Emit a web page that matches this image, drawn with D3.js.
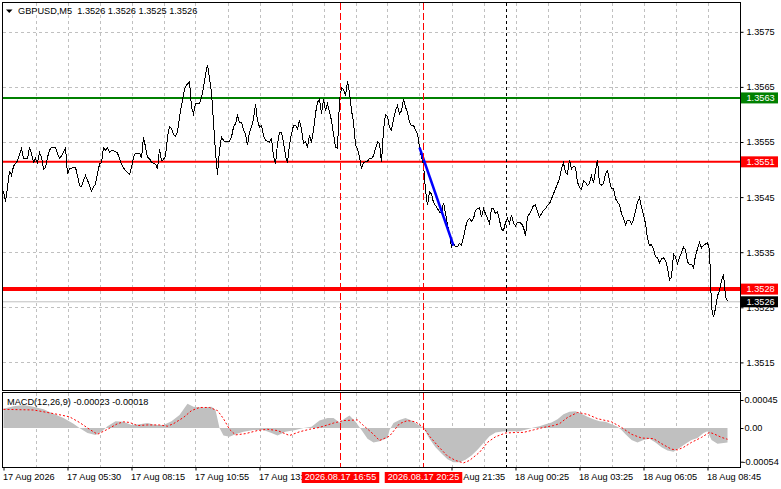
<!DOCTYPE html>
<html>
<head>
<meta charset="utf-8">
<script src="https://cdn.jsdelivr.net/npm/d3@7"></script>
<style>
body{margin:0;background:#fff;}
svg text{font-family:"Liberation Sans",Arial,sans-serif;font-size:9.2px;}
</style>
</head>
<body>
<svg id="chart" width="781" height="489"></svg>
<script>
// ---- data ----
var symbolTitle = "GBPUSD,M5  1.3526 1.3526 1.3525 1.3526";
var macdTitle = "MACD(12,26,9) -0.00023 -0.00018";

var priceBars = [0,1,2,3,4,5,7,9,10,12,13,14,15,16,17,18,19,20,21,22,23,24,26,27,28,29,30,31,32,33,35,36,37,38,39,40,
  41,42,43,44,45,46,47,48,49,50,51,52,53,54,56,57,58,59,60,61,62,63,64,65,66,68,69,70,71,72,73,74,76,77,78,79,80,
  81,82,83,84,85,86,87,88,89,90,91,92,93,94,95,96,97,98,99,100,101,102,103,104,105,106,107,108,109,110,111,113,114,
  115,116,117,118,119,120,121,122,123,124,125,126,127,128,129,130,131,132,133,134,135,136,137,138,139,140,141,142,
  143,144,145,146,147,148,149,150,151,152,153,154,155,156,157,158,159,160,161,162,163,164,165,166,167,168,169,170,
  171,172,173,174,175,176,177,178,179,180,182,183,184,185,186,187,188,189,190,191,192,193,194,195,196,197,198,199,
  200,201,202,203,204,205,206,207,208,209,210,211,212,213,214,215,216,217,218,219,220,221,222,223,224,225,226,227,
  228,229,230,231,232,233,234,235,236,237,238,239,240,241,242,243,244,245,246,247,248,249,250,251,252,253,254,255,
  256,257,258,259,260,261,262,263,264,265,266,267,268,269,270,271,272,273,274,275,276,277,278,279,280,281,282,283,
  284,285,286,287,288,289,290,291,292,293,294,295,296,297,298,299,300,301,302,303,304,305,306,307,308,309,310,311,
  312,313,314,315,316,317,318,319,320,321,322,323,324,325,326,327,328,329,330,331,332,333,334,335,336,337,338,339,
  340,341,342,343,344,345,346,347,348,349,350,351,352,353,354,355,356,357,358,359,360,361,362];

var priceCloses = [1.35461,1.35441,1.35468,1.35498,1.35489,1.35506,1.35516,1.35538,1.35520,1.35520,1.35540,1.35529,
  1.35513,1.35520,1.35512,1.35531,1.35522,1.35501,1.35504,1.35522,1.35535,1.35540,1.35540,1.35529,1.35520,1.35525,
  1.35531,1.35540,1.35492,1.35501,1.35504,1.35504,1.35489,1.35471,1.35469,1.35480,
  1.35489,1.35481,1.35471,1.35461,1.35468,1.35474,1.35492,1.35510,1.35513,1.35540,1.35535,1.35540,1.35531,1.35535,
  1.35533,1.35530,1.35520,1.35510,1.35503,1.35498,1.35495,1.35491,1.35504,1.35522,1.35530,1.35530,1.35521,1.35559,
  1.35541,1.35522,1.35520,1.35513,1.35510,1.35501,1.35538,1.35516,1.35518,
  1.35525,1.35559,1.35578,1.35574,1.35564,1.35560,1.35568,1.35595,1.35616,1.35637,1.35651,1.35655,1.35660,1.35612,
  1.35601,1.35619,1.35619,1.35620,1.35631,1.35649,1.35672,1.35690,1.35665,1.35640,1.35585,1.35531,1.35491,1.35535,
  1.35559,1.35553,1.35550,1.35551,1.35559,
  1.35577,1.35583,1.35598,1.35585,1.35586,1.35571,1.35565,1.35544,1.35568,1.35577,1.35592,1.35619,1.35589,1.35577,
  1.35579,1.35562,1.35553,1.35551,1.35550,1.35556,1.35525,1.35510,1.35547,1.35567,1.35568,1.35550,1.35525,1.35512,
  1.35545,1.35565,1.35580,1.35580,1.35574,1.35589,1.35574,1.35547,1.35550,1.35541,1.35562,1.35549,1.35571,1.35602,
  1.35622,1.35628,1.35601,1.35628,1.35607,1.35619,1.35604,1.35589,1.35565,1.35541,1.35539,1.35625,1.35649,1.35645,
  1.35634,1.35660,1.35640,1.35607,1.35586,1.35545,1.35538,1.35522,1.35501,1.35513,1.35515,1.35520,1.35520,1.35525,
  1.35538,1.35550,1.35547,1.35513,1.35571,1.35600,1.35596,1.35577,1.35571,1.35592,1.35607,1.35616,1.35601,1.35607,
  1.35627,1.35613,1.35604,1.35586,1.35580,1.35580,1.35572,1.35565,1.35540,1.35522,1.35510,1.35462,1.35435,1.35459,
  1.35456,1.35440,1.35435,1.35429,1.35423,1.35420,1.35440,1.35420,1.35400,1.35383,1.35360,1.35365,1.35360,1.35360,
  1.35366,1.35362,1.35377,1.35395,1.35408,1.35411,1.35406,1.35411,1.35426,1.35429,1.35431,1.35414,1.35429,1.35420,
  1.35411,1.35402,1.35429,1.35429,1.35420,1.35423,1.35408,1.35392,1.35389,1.35404,1.35411,1.35402,1.35418,1.35402,
  1.35398,1.35404,1.35404,1.35402,1.35395,1.35380,1.35414,1.35420,1.35426,1.35435,1.35436,1.35423,1.35414,1.35420,
  1.35426,1.35429,1.35435,1.35438,1.35447,1.35456,1.35465,1.35474,1.35483,1.35502,1.35512,1.35494,1.35492,1.35518,
  1.35501,1.35506,1.35504,1.35477,1.35468,1.35464,1.35480,1.35477,1.35471,1.35475,1.35489,1.35475,1.35498,1.35518,
  1.35474,1.35472,1.35474,1.35492,1.35498,1.35480,1.35465,1.35465,1.35447,1.35441,1.35436,1.35420,1.35411,1.35400,
  1.35408,1.35408,1.35401,1.35409,1.35425,1.35441,1.35449,1.35432,1.35418,1.35402,1.35375,1.35362,1.35364,1.35356,
  1.35342,1.35340,1.35331,1.35338,1.35340,1.35335,1.35322,1.35300,1.35305,1.35347,1.35341,1.35329,1.35341,1.35349,
  1.35359,1.35355,1.35332,1.35328,1.35328,1.35321,1.35344,1.35356,1.35368,1.35358,1.35362,1.35365,1.35367,1.35355,
  1.35250,1.35232,1.35248,1.35271,1.35280,1.35299,1.35310,1.35269,1.35261];

var macdBars = [0,5,10,15,20,25,30,35,38,42,46,49,52,56,60,64,68,72,76,80,84,88,92,95,100,104,106,108,110,113,116,
  120,125,130,134,137,141,146,150,154,158,162,165,168,171,173,176,179,182,185,188,192,193,195,198,201,204,207,210,
  213,216,219,222,225,228,231,234,237,240,243,246,250,254,258,262,265,268,271,274,277,280,283,286,289,292,295,298,
  301,304,307,309,311,314,317,320,323,326,329,332,335,338,341,344,347,350,352,354,357,360,362];
var macdValues = [0.00031,0.00035,0.00037,0.00034,0.00030,0.00023,0.00016,0.00007,0,-0.00008,-0.00011,-0.00006,
  0.00003,0.00011,0.00010,0.00005,0.00006,0.00008,0.00005,0.00005,0.00011,0.00021,0.00039,0.00034,0.00033,0.00034,
  0.00029,0,-0.00012,-0.00014,-0.00010,-0.00006,-0.00003,-0.00003,-0.00008,-0.00012,-0.00006,-0.00003,0,0.00002,
  0.00012,0.00016,0.00016,0.00009,0.00016,0.00020,0.00010,-0.00003,-0.00017,-0.00023,-0.00021,-0.00016,-0.00003,
  0.00008,0.00013,0.00016,0.00012,0.00006,0,-0.00017,-0.00031,-0.00041,-0.00050,-0.00055,-0.00055,-0.00051,-0.00044,
  -0.00035,-0.00024,-0.00013,-0.00007,-0.00005,-0.00005,-0.00005,-0.00002,0.00001,0.00003,0.00006,0.00009,0.00014,
  0.00022,0.00026,0.00027,0.00023,0.00018,0.00014,0.00011,0.00010,0.00006,0.00002,-0.00003,-0.00010,-0.00019,
  -0.00023,-0.00019,-0.00017,-0.00023,-0.00031,-0.00036,-0.00038,-0.00032,-0.00025,-0.00019,-0.00016,-0.00008,
  -0.00005,-0.00019,-0.00025,-0.00024,-0.00023];

var signalBars = [0,15,27,33,38,43,47,52,57,60,63,67,72,78,82,85,90,94,98,103,107,110,113,116,121,127,132,137,143,
  148,153,158,165,170,177,180,185,188,193,198,202,206,210,213,217,222,226,230,233,238,242,246,251,257,260,265,270,
  275,278,282,287,292,297,304,309,314,319,325,329,334,337,340,344,349,353,355,359,362];
var signalValues = [0.00030,0.00029,0.00022,0.00018,0.00009,-0.00002,-0.00010,-0.00002,0.00007,0.00010,0.00009,
  0.00004,0.00005,0.00005,0.00003,0.00007,0.00017,0.00028,0.00033,0.00033,0.00028,0.00015,-0.00002,-0.00011,-0.00009,
  -0.00004,-0.00002,-0.00004,-0.00012,-0.00006,-0.00002,0.00001,0.00008,0.00012,0.00013,0.00004,-0.00010,-0.00020,
  -0.00013,0.00007,0.00012,0.00010,0.00001,-0.00013,-0.00028,-0.00045,-0.00052,-0.00056,-0.00052,-0.00039,-0.00023,
  -0.00014,-0.00008,-0.00007,-0.00007,-0.00003,0.00001,0.00004,0.00007,0.00017,0.00025,0.00022,0.00015,0.00010,
  0.00001,-0.00010,-0.00016,-0.00017,-0.00025,-0.00034,-0.00035,-0.00031,-0.00023,-0.00015,-0.00007,-0.00009,
  -0.00015,-0.00018];

var priceTicks = [1.3515, 1.3525, 1.3535, 1.3545, 1.3555, 1.3565, 1.3575];
var macdTicks = [0.00045, 0, -0.00054];
// labels at bars 160 and 192 sit fully under the marker boxes in the picture, so they are left out
var timeBars = [0, 32, 64, 96, 128, 224, 256, 288, 320, 352];
var timeLabels = ["17 Aug 2026", "17 Aug 05:30", "17 Aug 08:15", "17 Aug 10:55", "17 Aug 13:35",
  "17 Aug 21:35", "18 Aug 00:25", "18 Aug 03:25", "18 Aug 06:05", "18 Aug 08:45"];

var resistanceLevel = 1.3563;
var pivotLevel = 1.35514;
var supportLevel = 1.35283;
var lastPrice = 1.3526;
var markBars = [168, 210];
var markLabels = ["2026.08.17 16:55", "2026.08.17 20:25"];
var daySeparatorBar = 251;
var trendBars = [208, 225];
var trendPrices = [1.35540, 1.35362];

// ---- layout ----
var left = 2.5, right = 740.5, mainTop = 2.5, mainBottom = 390.5, subTop = 392.5, subBottom = 467.5;
var svg = d3.select("#chart");

var x = d3.scaleLinear().domain([0, 368.5]).range([3.5, 740.5]);
var y = d3.scaleLinear().domain([1.3515, 1.3575]).range([362.4, 31.8]);
var ym = d3.scaleLinear().domain([-0.00054, 0.00045]).range([461.7, 400]);
var fmt4 = d3.format(".4f");

svg.append("rect").attr("width", 781).attr("height", 489).attr("fill", "#fff");

var defs = svg.append("defs");
defs.append("clipPath").attr("id", "clipMain").append("rect")
  .attr("x", left + 0.5).attr("y", mainTop + 0.5).attr("width", right - left - 1).attr("height", mainBottom - mainTop - 1);
defs.append("clipPath").attr("id", "clipSub").append("rect")
  .attr("x", left + 0.5).attr("y", subTop + 0.5).attr("width", right - left - 1).attr("height", subBottom - subTop - 1);

var main = svg.append("g").attr("clip-path", "url(#clipMain)");
var sub = svg.append("g").attr("clip-path", "url(#clipSub)");

// grid
var gridBars = d3.range(16, 368, 16);
[main, sub].forEach(function(g, k){
  g.selectAll("line.vgrid").data(gridBars).enter().append("line").attr("class", "vgrid")
    .attr("x1", function(d){ return Math.round(x(d)) + 0.5; }).attr("x2", function(d){ return Math.round(x(d)) + 0.5; })
    .attr("y1", k ? subTop : mainTop).attr("y2", k ? subBottom : mainBottom)
    .attr("stroke", "#c0c0c0").attr("stroke-dasharray", "3,3").attr("shape-rendering", "crispEdges");
});
main.selectAll("line.hgrid").data(priceTicks).enter().append("line").attr("class", "hgrid")
  .attr("x1", left).attr("x2", right)
  .attr("y1", function(d){ return Math.round(y(d)) + 0.5; }).attr("y2", function(d){ return Math.round(y(d)) + 0.5; })
  .attr("stroke", "#c0c0c0").attr("stroke-dasharray", "3,3").attr("shape-rendering", "crispEdges");

// horizontal levels
function hline(p, color, w){
  main.append("line").attr("x1", left).attr("x2", right).attr("y1", y(p)).attr("y2", y(p))
    .attr("stroke", color).attr("stroke-width", w);
}
hline(lastPrice, "#c0c0c0", 1);
hline(resistanceLevel, "#008000", 2);
hline(pivotLevel, "#ff0000", 2);
hline(supportLevel, "#ff0000", 4);

// MACD histogram + signal
var macdPts = macdBars.map(function(b, i){ return [b, macdValues[i]]; });
sub.append("path").datum(macdPts)
  .attr("d", d3.area().x(function(d){ return x(d[0]); }).y0(ym(0)).y1(function(d){ return ym(d[1]); }))
  .attr("fill", "#c0c0c0");
var sigPts = signalBars.map(function(b, i){ return [b, signalValues[i]]; });
sub.append("path").datum(sigPts)
  .attr("d", d3.line().x(function(d){ return x(d[0]); }).y(function(d){ return ym(d[1]); }))
  .attr("fill", "none").attr("stroke", "#ff0000").attr("stroke-dasharray", "2,2");

// vertical markers through both panes
markBars.forEach(function(b){
  svg.append("line").attr("x1", Math.round(x(b)) + 0.5).attr("x2", Math.round(x(b)) + 0.5)
    .attr("y1", mainTop).attr("y2", subBottom)
    .attr("stroke", "#ff0000").attr("stroke-dasharray", "7,3").attr("shape-rendering", "crispEdges");
});
svg.append("line").attr("x1", Math.round(x(daySeparatorBar)) + 0.5).attr("x2", Math.round(x(daySeparatorBar)) + 0.5)
  .attr("y1", mainTop).attr("y2", subBottom)
  .attr("stroke", "#000").attr("stroke-dasharray", "3,3").attr("shape-rendering", "crispEdges");

// price line
var pricePts = priceBars.map(function(b, i){ return [b, priceCloses[i]]; });
main.append("path").datum(pricePts)
  .attr("d", d3.line().x(function(d){ return x(d[0]); }).y(function(d){ return y(d[1]); }))
  .attr("fill", "none").attr("stroke", "#000").attr("stroke-width", 1).attr("shape-rendering", "crispEdges");

// trend line
var trendPts = trendBars.map(function(b, i){ return [b, trendPrices[i]]; });
main.append("path").datum(trendPts)
  .attr("d", d3.line().x(function(d){ return x(d[0]); }).y(function(d){ return y(d[1]); }))
  .attr("fill", "none").attr("stroke", "#0000ff").attr("stroke-width", 2.5);

// frames
svg.append("rect").attr("x", left).attr("y", mainTop).attr("width", right - left).attr("height", mainBottom - mainTop)
  .attr("fill", "none").attr("stroke", "#000").attr("shape-rendering", "crispEdges");
svg.append("rect").attr("x", left).attr("y", subTop).attr("width", right - left).attr("height", subBottom - subTop)
  .attr("fill", "none").attr("stroke", "#000").attr("shape-rendering", "crispEdges");

// axes
var ga = svg.append("g").attr("transform", "translate(" + right + ",0)")
  .call(d3.axisRight(y).tickValues(priceTicks).tickFormat(fmt4).tickSize(3).tickPadding(3));
ga.select(".domain").remove();
var gm = svg.append("g").attr("transform", "translate(" + right + ",0)")
  .call(d3.axisRight(ym).tickValues(macdTicks).tickFormat(function(d){ return d === 0 ? "0.00" : d.toFixed(5); })
    .tickSize(3).tickPadding(1));
gm.select(".domain").remove();
gm.selectAll("text").filter(function(d){ return d < 0; }).attr("dx", -2);
var gx = svg.append("g").attr("transform", "translate(0," + subBottom + ")")
  .call(d3.axisBottom(x).tickValues(timeBars).tickFormat(function(d, i){ return timeLabels[i]; }).tickSize(3).tickPadding(3));
gx.select(".domain").remove();
gx.selectAll("text").attr("text-anchor", "start").attr("dx", -1);

// price boxes on the axis
function priceBox(p, color){
  var cy = y(p);
  svg.append("rect").attr("x", right + 0.5).attr("y", cy - 5.5).attr("width", 37).attr("height", 11).attr("fill", color);
  svg.append("text").attr("x", right + 6).attr("y", cy).attr("dy", "0.34em").attr("fill", "#fff").text(fmt4(p));
}
priceBox(resistanceLevel, "#008000");
priceBox(pivotLevel, "#ff0000");
priceBox(supportLevel, "#ff0000");
priceBox(lastPrice, "#000");

// time boxes for the vertical markers
markBars.forEach(function(b, i){
  var cx = Math.round(x(b)) + 0.5;
  var t = svg.append("text").attr("y", 480).attr("fill", "#fff").attr("text-anchor", "middle").attr("x", cx).text(markLabels[i]);
  var w = t.node().getComputedTextLength() + 6;
  svg.insert("rect", function(){ return t.node(); })
    .attr("x", cx - w / 2).attr("y", 472).attr("width", w).attr("height", 11).attr("fill", "#ff0000");
});

// titles
svg.append("path").attr("d", "M6,9.5L12.5,9.5L9.25,13Z").attr("fill", "#000");
svg.append("text").attr("x", 18).attr("y", 14).style("white-space", "pre").text(symbolTitle);
svg.append("text").attr("x", 7).attr("y", 405).text(macdTitle);
</script>
</body>
</html>
